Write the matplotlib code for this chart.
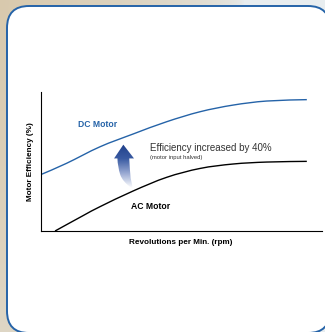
import numpy as np
import matplotlib
matplotlib.use("Agg")
import matplotlib.pyplot as plt
from matplotlib.patches import FancyBboxPatch, PathPatch
from matplotlib.path import Path
from matplotlib.colors import LinearSegmentedColormap

# data (arbitrary units)
dc_rpm = [0.2, 9.1, 21.0, 32.8, 44.7, 56.6, 68.4, 80.3, 94.6]
dc_eff = [40.8, 48.7, 60.6, 69.8, 78.6, 85.8, 90.6, 93.5, 94.5]
ac_rpm = [5.0, 15.1, 21.0, 32.8, 44.7, 56.6, 68.4, 80.3, 94.6]
ac_eff = [0.0, 11.2, 17.5, 28.8, 38.6, 45.0, 48.2, 49.6, 50.1]

BLUE = "#2563a8"
SANS = ["Liberation Sans", "DejaVu Sans"]

W, H = 325, 332


def smooth_path(xs, ys):
    # Catmull-Rom through the read points, drawn as cubic Bezier segments
    p = np.column_stack([xs, ys]).astype(float)
    verts = [tuple(p[0])]
    codes = [Path.MOVETO]
    for i in range(len(p) - 1):
        p0 = p[i - 1] if i > 0 else p[i]
        p3 = p[i + 2] if i + 2 < len(p) else p[i + 1]
        c1 = p[i] + (p[i + 1] - p0) / 6
        c2 = p[i + 1] - (p3 - p[i]) / 6
        verts += [tuple(c1), tuple(c2), tuple(p[i + 1])]
        codes += [Path.CURVE4] * 3
    return Path(verts, codes)


fig = plt.figure(figsize=(W / 100, H / 100), dpi=100)

# background: beige in the top-left fading to pale grey
bg = fig.add_axes([0, 0, 1, 1])
bg.set_axis_off()
yy, xx = np.mgrid[0:1:200j, 0:1:200j]
t = np.clip(1 - np.sqrt((xx / 0.75) ** 2 + (yy / 1.6) ** 2), 0, 1) ** 0.45
c0 = np.array([0.91, 0.93, 0.94])
c1 = np.array([0.85, 0.79, 0.68])
img = c0[None, None, :] * (1 - t[..., None]) + c1[None, None, :] * t[..., None]
bg.imshow(img, extent=[0, W, H, 0], aspect="auto")
bg.set_xlim(0, W)
bg.set_ylim(H, 0)
box = FancyBboxPatch((7, 6), 323, 327, boxstyle="round,pad=0,rounding_size=22",
                     facecolor="white", edgecolor=BLUE, linewidth=1.4)
bg.add_patch(box)

ax = fig.add_axes([41 / W, 1 - 231 / H, 281 / W, 139 / H])
ax.set_xlim(0, 100)
ax.set_ylim(0, 100)
ax.patch.set_alpha(0)
for s in ["top", "right"]:
    ax.spines[s].set_visible(False)
for s in ["left", "bottom"]:
    ax.spines[s].set_linewidth(0.8)
ax.set_xticks([])
ax.set_yticks([])

ax.add_patch(PathPatch(smooth_path(dc_rpm, dc_eff), facecolor="none",
                       edgecolor=BLUE, lw=1.0, clip_on=False))
ax.add_patch(PathPatch(smooth_path(ac_rpm, ac_eff), facecolor="none",
                       edgecolor="black", lw=1.0, clip_on=False))

# gradient arrow
verts = [(32.3, 30.9), (29.0, 35.5), (28.2, 40.5), (27.3, 46.0), (27.2, 52.2),
         (26.0, 52.2), (29.3, 62.1), (33.1, 52.2), (31.4, 52.2),
         (31.6, 44.0), (31.9, 38.1), (32.3, 34.5), (32.5, 32.4), (32.3, 30.9)]
codes = [Path.MOVETO, Path.CURVE3, Path.CURVE3, Path.CURVE3, Path.CURVE3,
         Path.LINETO, Path.LINETO, Path.LINETO, Path.LINETO,
         Path.CURVE3, Path.CURVE3, Path.CURVE3, Path.CURVE3, Path.CLOSEPOLY]
arrow = PathPatch(Path(verts, codes), facecolor="none", edgecolor="none")
ax.add_patch(arrow)
cmap = LinearSegmentedColormap.from_list("arr", ["#ffffff", "#9aaad3", "#3a5ba2", "#1f3f8a"])
grad = np.linspace(0, 1, 256)[:, None]
im = ax.imshow(grad, extent=[25, 34, 31, 62], origin="lower", cmap=cmap,
               aspect="auto", zorder=3)
im.set_clip_path(arrow)

ax.text(20.3, 76.5, "DC Motor", color=BLUE, fontsize=6.2, fontweight="bold",
        family=SANS, ha="center", va="center")
ax.text(39.0, 17.5, "AC Motor", color="black", fontsize=6.2, fontweight="bold",
        family=SANS, ha="center", va="center")
ax.text(38.8, 59.8, "Efficiency increased by 40%", color="#333333", fontsize=7.0,
        family=SANS, ha="left", va="center")
ax.text(38.8, 53.0, "(motor input halved)", color="#333333", fontsize=4.2,
        family=SANS, ha="left", va="center")

fig.text(30 / W, 1 - 162 / H, "Motor Efficiency (%)", rotation=90, fontsize=5.9,
         fontweight="bold", family=SANS, ha="center", va="center")
fig.text(181 / W, 1 - 243 / H, "Revolutions per Min. (rpm)", fontsize=5.9,
         fontweight="bold", family=SANS, ha="center", va="center")

fig.savefig("out.png", dpi=100)
